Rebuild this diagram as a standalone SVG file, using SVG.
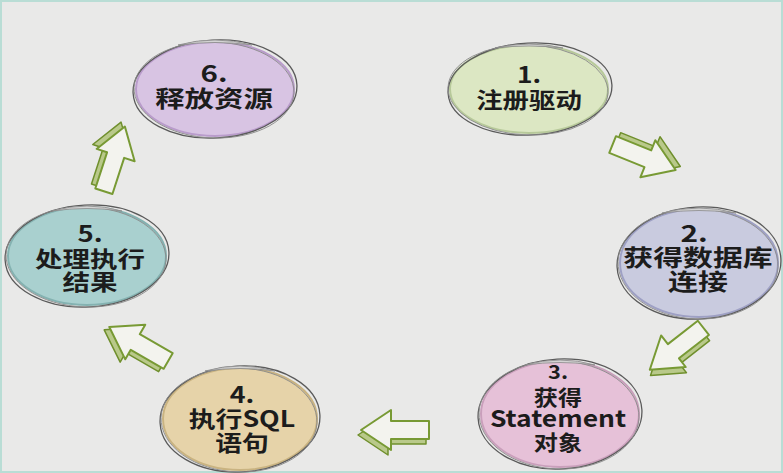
<svg xmlns="http://www.w3.org/2000/svg" width="783" height="473" viewBox="0 0 783 473">
<defs>
<style>
.t{font-family:"Noto Sans CJK SC","Noto Sans",sans-serif;font-weight:bold;fill:#1c1c1c;text-anchor:middle}
.sk{fill:none;stroke:#5a5a5a;stroke-width:1.3}
.sk2{fill:none;stroke:#8a8a8a;stroke-width:0.9}
.hl{fill:#d4d4d4;stroke:#8a8a8a;stroke-width:0.8}
.ab{fill:#b9c98a;stroke:#6f8f2c;stroke-width:1.5;stroke-linejoin:round}
.af{fill:#f3f3ee;stroke:#789a34;stroke-width:2;stroke-linejoin:round}
</style>
<g id="arrowShape">
<polygon class="ab" points="-33,-14 5,-14 5,-25 35,-5 5,15 5,4 -33,4"/>
<polygon class="af" points="-36,-9 2,-9 2,-20 32,0 2,20 2,9 -36,9"/>
</g>
</defs>
<rect x="0" y="0" width="783" height="473" fill="#e9e9e8"/>
<rect x="1" y="1" width="781" height="471" fill="none" stroke="#b9ddd5" stroke-width="2"/>
<g id="connectors">
<use href="#arrowShape" transform="translate(646,158) rotate(22)"/>
<use href="#arrowShape" transform="translate(675,350) rotate(142)"/>
<use href="#arrowShape" transform="translate(393,430) rotate(180)"/>
<use href="#arrowShape" transform="translate(137,343) rotate(-150)"/>
<use href="#arrowShape" transform="translate(115,157) rotate(-72)"/>
</g>
<g id="node1">
<ellipse cx="529" cy="89" rx="79" ry="44" fill="#dce7c3" stroke="#b7c99a" stroke-width="2"/>
<ellipse class="sk" cx="530" cy="89" rx="82" ry="46" transform="rotate(-3 530 89)"/>
<ellipse class="sk2" cx="528" cy="90" rx="80" ry="45" transform="rotate(2 528 90)"/>
<path class="hl" d="M495,48 Q529,40 563,48 Q529,44 495,48 Z"/>
<text class="t" font-size="22" transform="translate(529 0) scale(1.2 1)"><tspan x="0" y="83">1.</tspan><tspan x="0" y="108">注册驱动</tspan></text>
</g>
<g id="node2">
<ellipse cx="699" cy="263" rx="79" ry="54" fill="#c9cbdf" stroke="#9ea0c4" stroke-width="2"/>
<ellipse class="sk" cx="699" cy="263" rx="82" ry="56" transform="rotate(-3 699 263)"/>
<ellipse class="sk2" cx="698" cy="264" rx="80" ry="55" transform="rotate(2 698 264)"/>
<path class="hl" d="M662,213 Q699,203 736,213 Q699,208 662,213 Z"/>
<text class="t" font-size="23" transform="translate(698 0) scale(1.3 1)"><tspan x="-3" y="242">2.</tspan><tspan x="0" y="266">获得数据库</tspan><tspan x="0" y="290">连接</tspan></text>
</g>
<g id="node3">
<ellipse cx="560" cy="414" rx="79" ry="53" fill="#e6c1d8" stroke="#c99fbb" stroke-width="2"/>
<ellipse class="sk" cx="560" cy="414" rx="82" ry="55" transform="rotate(-3 560 414)"/>
<ellipse class="sk2" cx="559" cy="415" rx="80" ry="54" transform="rotate(2 559 415)"/>
<path class="hl" d="M525,365 Q560,355 595,365 Q560,360 525,365 Z"/>
<text class="t" font-size="21" transform="translate(558 0) scale(1.15 1)"><tspan x="0" y="379" font-size="19">3.</tspan><tspan x="0" y="405">获得</tspan><tspan x="0" y="427" font-size="23">Statement</tspan><tspan x="0" y="450">对象</tspan></text>
</g>
<g id="node4">
<ellipse cx="240" cy="419" rx="77" ry="51" fill="#e6d3a9" stroke="#c9b381" stroke-width="2"/>
<ellipse class="sk" cx="240" cy="419" rx="80" ry="53" transform="rotate(-3 240 419)"/>
<ellipse class="sk2" cx="239" cy="420" rx="78" ry="52" transform="rotate(2 239 420)"/>
<path class="hl" d="M205,371 Q240,361 275,371 Q240,366 205,371 Z"/>
<text class="t" font-size="22" transform="translate(242 0) scale(1.22 1)"><tspan x="0" y="403">4.</tspan><tspan x="0" y="427">执行SQL</tspan><tspan x="0" y="451">语句</tspan></text>
</g>
<g id="node5">
<ellipse cx="87" cy="256" rx="79" ry="49" fill="#a9d0cf" stroke="#84b2b1" stroke-width="2"/>
<ellipse class="sk" cx="87" cy="256" rx="82" ry="51" transform="rotate(-3 87 256)"/>
<ellipse class="sk2" cx="86" cy="257" rx="80" ry="50" transform="rotate(2 86 257)"/>
<path class="hl" d="M52,211 Q87,201 122,211 Q87,206 52,211 Z"/>
<text class="t" font-size="22" transform="translate(90 0) scale(1.25 1)"><tspan x="0" y="242">5.</tspan><tspan x="0" y="267">处理执行</tspan><tspan x="0" y="290">结果</tspan></text>
</g>
<g id="node6">
<ellipse cx="215" cy="89" rx="79" ry="47" fill="#d8c4e3" stroke="#b99ccb" stroke-width="2"/>
<ellipse class="sk" cx="215" cy="89" rx="82" ry="49" transform="rotate(-3 215 89)"/>
<ellipse class="sk2" cx="214" cy="90" rx="80" ry="48" transform="rotate(2 214 90)"/>
<path class="hl" d="M178,45 Q215,35 252,45 Q215,40 178,45 Z"/>
<text class="t" font-size="23" transform="translate(214 0) scale(1.28 1)"><tspan x="0" y="82">6.</tspan><tspan x="0" y="107">释放资源</tspan></text>
</g>
</svg>
